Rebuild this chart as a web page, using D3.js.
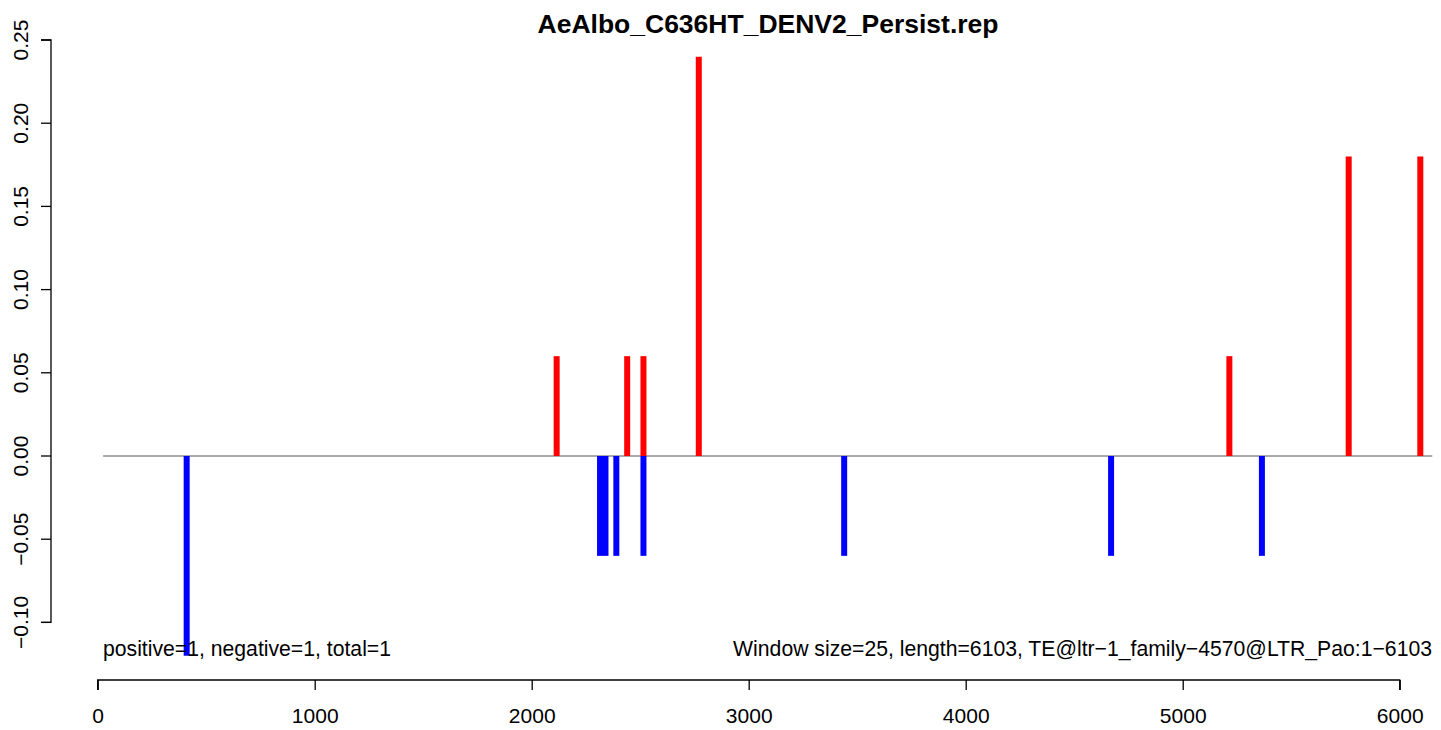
<!DOCTYPE html>
<html>
<head>
<meta charset="utf-8">
<script src="https://d3js.org/d3.v7.min.js"></script>
<style>
  body { margin: 0; background: #fff; }
  svg { font-family: "Liberation Sans", Arial, sans-serif; }
  .axis path, .axis line { stroke: #000; stroke-width: 1.3; }
  .axis text { font-size: 21px; fill: #000; }
</style>
</head>
<body>
<svg id="chart" width="1441" height="730"></svg>
<script>
// windows with more positive reads (red) and negative reads (blue)
var posX = [2115, 2440, 2515, 2770, 5215, 5765, 6095];
var posY = [0.06, 0.06, 0.06, 0.24, 0.06, 0.18, 0.18];
var negX = [410, 2315, 2340, 2390, 2515, 3440, 4670, 5365];
var negY = [-0.12, -0.06, -0.06, -0.06, -0.06, -0.06, -0.06, -0.06];
var xTicks = [0, 1000, 2000, 3000, 4000, 5000, 6000];
var yTicks = [-0.10, -0.05, 0.00, 0.05, 0.10, 0.15, 0.20, 0.25];
var seqLen = 6103, winSize = 25;

var svg = d3.select("#chart");

var x = d3.scaleLinear().domain([0, 6000]).range([97.7, 1399.7]);
var y = d3.scaleLinear().domain([-0.10, 0.25]).range([622.4, 40]);

// zero line
svg.append("line")
    .attr("x1", x(winSize)).attr("x2", x(6150))
    .attr("y1", y(0)).attr("y2", y(0))
    .attr("stroke", "#555").attr("stroke-width", 1);

var bars = posX.map(function (d, i) { return {x: d, v: posY[i], c: "#ff0000"}; })
    .concat(negX.map(function (d, i) { return {x: d, v: negY[i], c: "#0000ff"}; }));

svg.selectAll("line.bar")
    .data(bars)
    .enter()
    .append("line")
    .attr("class", "bar")
    .attr("x1", function (d) { return x(d.x); })
    .attr("x2", function (d) { return x(d.x); })
    .attr("y1", y(0))
    .attr("y2", function (d) { return y(d.v); })
    .attr("stroke", function (d) { return d.c; })
    .attr("stroke-width", 6);

// x axis
var xa = svg.append("g")
    .attr("class", "axis")
    .attr("transform", "translate(0,680)")
    .call(d3.axisBottom(x).tickValues(xTicks).tickSize(10).tickSizeOuter(10).tickPadding(18).tickFormat(d3.format("d")));
xa.select(".domain").attr("d", "M" + x(0) + ",10V0H" + x(6000) + "V10");

// y axis
var ya = svg.append("g")
    .attr("class", "axis")
    .attr("transform", "translate(51,0)")
    .call(d3.axisLeft(y).tickValues(yTicks).tickSize(10).tickSizeOuter(10).tickFormat(d3.format(".2f")));
ya.select(".domain").attr("d", "M-10," + y(-0.10) + "H0V" + y(0.25) + "H-10");
ya.selectAll("text")
    .attr("text-anchor", "middle")
    .attr("x", 0).attr("dy", 0)
    .attr("transform", function (d) { return "translate(-30," + y(d) + ") rotate(-90)"; })
    .attr("y", 7);
ya.selectAll(".tick").attr("transform", null);
ya.selectAll(".tick line").attr("transform", function (d) { return "translate(0," + y(d) + ")"; });

// title
svg.append("text")
    .attr("x", 768).attr("y", 33)
    .attr("text-anchor", "middle")
    .attr("font-weight", "bold")
    .attr("font-size", "26.5px")
    .text("AeAlbo_C636HT_DENV2_Persist.rep");

// footnotes
svg.append("text")
    .attr("x", 103).attr("y", 656)
    .attr("font-size", "21.2px")
    .text("positive=1, negative=1, total=1");
svg.append("text")
    .attr("x", 1432).attr("y", 656)
    .attr("text-anchor", "end")
    .attr("font-size", "21.2px")
    .text("Window size=" + winSize + ", length=" + seqLen + ", TE@ltr\u22121_family\u22124570@LTR_Pao:1\u2212" + seqLen);
</script>
</body>
</html>
